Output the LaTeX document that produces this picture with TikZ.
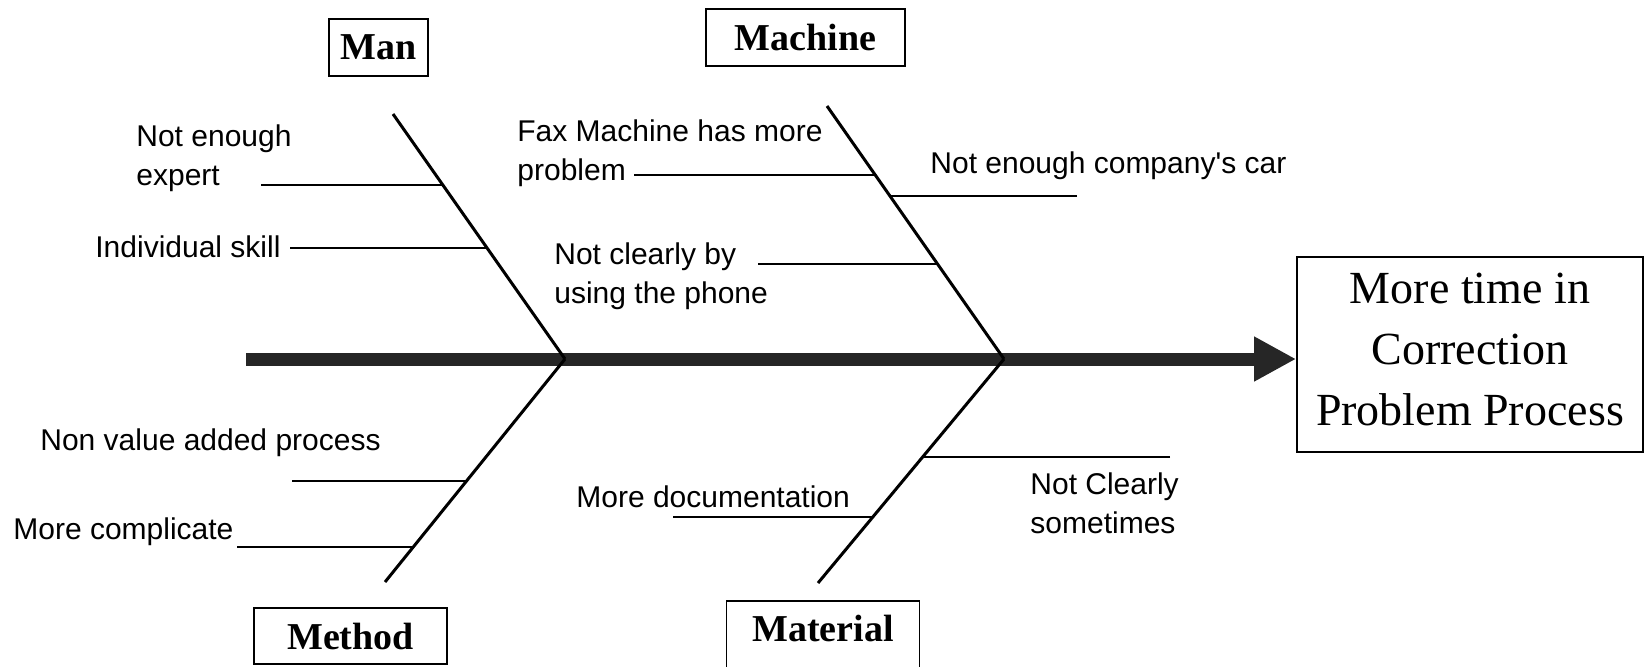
\documentclass[tikz,border=0pt]{standalone}
\usepackage{fontspec}
\setmainfont{Liberation Serif}
\newfontfamily\labfont{Liberation Sans}
\usetikzlibrary{calc,arrows.meta}
\begin{document}
\begin{tikzpicture}[x=0.5pt,y=-0.5pt,
  catbox/.style={draw, line width=0.9pt, inner sep=0pt,
    font=\bfseries\fontsize{19}{23}\selectfont},
  cause/.style={font=\labfont\fontsize{15}{19.5}\selectfont,
    inner sep=0pt, align=left, anchor=base west},
  bone/.style={line width=1.5pt},
  twig/.style={line width=1pt},
  spine/.style={line width=6.5pt, draw=black!85,
    -{Triangle[length=21pt,width=21pt]}},
]
\useasboundingbox (0,0) rectangle (1648,666);
\clip (0,0) rectangle (1648,666);

% category boxes
\node[catbox, minimum width=49.5pt, minimum height=28.5pt] (man) at (378.5,47.5) {Man};
\node[catbox, minimum width=99.5pt, minimum height=28.5pt] (machine) at (805.5,37.5) {Machine};
\node[catbox, minimum width=96.5pt, minimum height=28pt] (method) at (350.5,636) {Method};
\node[catbox, minimum width=96.5pt, minimum height=36pt,
      text height=13pt, text depth=9pt] (material) at (823,637) {Material};

% effect box
\node[draw, line width=0.9pt, inner sep=0pt, minimum width=173pt, minimum height=97.5pt,
      align=center, text depth=5pt, font=\fontsize{23}{30.5}\selectfont] (effect) at (1470,354.5)
      {More time in\\Correction\\Problem Process};

% spine and main bones
\coordinate (tail) at (246,359);
\coordinate (j1) at (565,359);
\coordinate (j2) at (1004,359);
\coordinate (manTop) at (393,114);
\coordinate (machineTop) at (827,106);
\coordinate (methodEnd) at (385,582);
\coordinate (materialEnd) at (818,583);

\draw[spine] (tail) -- (tail -| effect.west);
\draw[bone] (manTop) -- (j1);
\draw[bone] (j1) -- (methodEnd);
\draw[bone] (machineTop) -- (j2);
\draw[bone] (j2) -- (materialEnd);

% joints of the small branches on the bones
\coordinate (k1) at ($(manTop)!0.2898!(j1)$);
\coordinate (k2) at ($(manTop)!0.5469!(j1)$);
\coordinate (k3) at ($(machineTop)!0.2727!(j2)$);
\coordinate (k4) at ($(machineTop)!0.3557!(j2)$);
\coordinate (k5) at ($(machineTop)!0.6245!(j2)$);
\coordinate (k6) at ($(j1)!0.5471!(methodEnd)$);
\coordinate (k7) at ($(j1)!0.8430!(methodEnd)$);
\coordinate (k8) at ($(j2)!0.7054!(materialEnd)$);
\coordinate (k9) at ($(j2)!0.4375!(materialEnd)$);

% free ends of the small branches
\coordinate (f1) at (261,185);
\coordinate (f2) at (290,248);
\coordinate (f3) at (634,175);
\coordinate (f4) at (1077,196);
\coordinate (f5) at (758,264);
\coordinate (f6) at (292,481);
\coordinate (f7) at (237,547);
\coordinate (f8) at (673,517);
\coordinate (f9) at (1170,457);

\foreach \i in {1,...,9} \draw[twig] (f\i) -- (f\i -| k\i);

% causes (anchored on the baseline of the last line)
\node[cause] (c1) at (136,185) {Not enough\\expert};
\node[cause] (c2) at (95,257) {Individual skill};
\node[cause] (c3) at (517,180) {Fax Machine has more\\problem};
\node[cause] (c4) at (930,173) {Not enough company's car};
\node[cause] (c5) at (554,303) {Not clearly by\\using the phone};
\node[cause] (c6) at (40,450) {Non value added process};
\node[cause] (c7) at (13,539) {More complicate};
\node[cause] (c8) at (576,507) {More documentation};
\node[cause] (c9) at (1030,533) {Not Clearly\\sometimes};
\end{tikzpicture}
\end{document}
